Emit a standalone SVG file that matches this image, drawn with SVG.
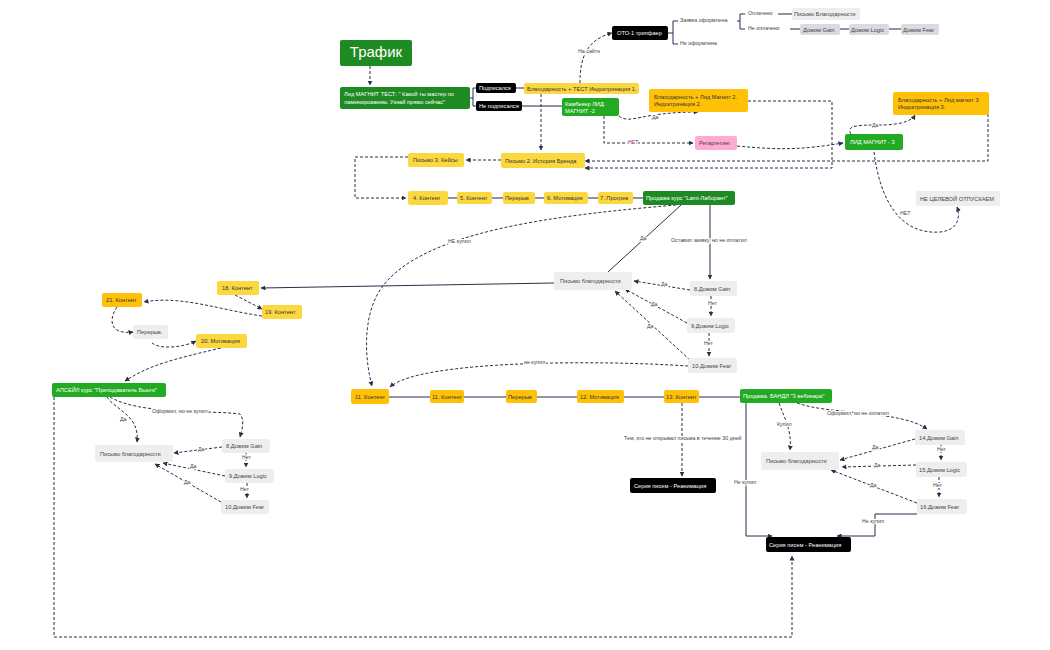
<svg xmlns="http://www.w3.org/2000/svg" width="1050" height="650" viewBox="0 0 1050 650">
<defs>
<marker id="a" viewBox="0 0 10 10" refX="9" refY="5" markerWidth="5" markerHeight="5" orient="auto"><path d="M0,0L10,5L0,10z" fill="#2b2d4a"/></marker>
<style>
text{font-family:"Liberation Sans",Arial,sans-serif;font-size:5.7px;dominant-baseline:middle}
.n rect{rx:2}
.y rect{fill:#fbd83f}.o rect{fill:#ffc107}.g rect{fill:#1e8a22}.lg rect{fill:#22aa22}.k rect{fill:#000}.l rect{fill:#efeeef}.d rect{fill:#dadae0}.p rect{fill:#ffaad0}
.g text,.lg text,.k text{fill:#fff}
.y text,.o text{fill:#333}
.l text,.d text,.p text{fill:#444}
.ds{fill:none;stroke:#2b2d4a;stroke-width:1;stroke-dasharray:3,2}
.s{fill:none;stroke:#2b2d4a;stroke-width:1}
.r{fill:none;stroke:#6e7085;stroke-width:1.6}
.lb text{fill:#444;font-size:5.3px;stroke:#fff;stroke-width:2;paint-order:stroke}
.big{font-size:15px}
</style>
</defs>
<rect width="1050" height="650" fill="#fff"/>
<g id="connectors">
<path class="ds" d="M370,66V85" marker-end="url(#a)"/>
<path class="s" d="M470,98H473V88H476M473,98V106H476"/>
<path class="r" d="M516,88H524M522,106H562"/>
<path class="ds" d="M580,83C580,60 585,40 612,33" marker-end="url(#a)"/>
<path class="s" d="M668,33H673V21H678M673,33V44H678"/>
<path class="s" d="M737,21H740V14H745M740,21V29H745"/>
<path class="r" d="M778,14H792M790,29H800M840,29H849M889,29H901"/>
<path class="ds" d="M541,94V150" marker-end="url(#a)"/>
<path class="ds" d="M619,116C630,125 640,112 698,112" marker-end="url(#a)"/>
<path class="ds" d="M604,116V143H693" marker-end="url(#a)"/>
<path class="ds" d="M737,146C780,150 800,150 843,143" marker-end="url(#a)"/>
<path class="ds" d="M748,101H832V168H585" marker-end="url(#a)"/>
<path class="ds" d="M988,114V161H585" marker-end="url(#a)"/>
<path class="ds" d="M851,134C845,125 860,125 880,125C890,125 910,124 915,115" marker-end="url(#a)"/>
<path class="ds" d="M874,152C880,200 900,235 940,232C960,230 960,215 957,207" marker-end="url(#a)"/>
<path class="ds" d="M501,160H466" marker-end="url(#a)"/>
<path class="ds" d="M408,157H355V198H406" marker-end="url(#a)"/>
<path class="r" d="M448,198H457M492,198H503M535,198H544M588,198H598M633,198H643"/>
<path class="ds" d="M676,205C560,215 420,230 380,290C362,318 365,360 372,386" marker-end="url(#a)"/>
<path class="s" d="M681,205L608,272"/>
<path class="s" d="M710,205V279" marker-end="url(#a)"/>
<path class="s" d="M554,283L261,288" marker-end="url(#a)"/>
<path class="ds" d="M690,290L634,281" marker-end="url(#a)"/>
<path class="ds" d="M711,296V316" marker-end="url(#a)"/>
<path class="ds" d="M687,323L625,289" marker-end="url(#a)"/>
<path class="ds" d="M709,333V356" marker-end="url(#a)"/>
<path class="ds" d="M690,360L615,291" marker-end="url(#a)"/>
<path class="ds" d="M688,366C600,360 420,360 390,387" marker-end="url(#a)"/>
<path class="ds" d="M235,295L262,309" marker-end="url(#a)"/>
<path class="ds" d="M262,316C220,310 180,295 144,302" marker-end="url(#a)"/>
<path class="ds" d="M117,307C108,320 110,335 133,332" marker-end="url(#a)"/>
<path class="ds" d="M152,343C160,350 185,347 196,341" marker-end="url(#a)"/>
<path class="ds" d="M221,348C170,360 150,365 125,381" marker-end="url(#a)"/>
<path class="ds" d="M54,397V637H792V556" marker-end="url(#a)"/>
<path class="ds" d="M107,397C115,410 140,415 137,442" marker-end="url(#a)"/>
<path class="ds" d="M110,397C140,415 210,410 240,414C245,420 242,430 240,437" marker-end="url(#a)"/>
<path class="ds" d="M222,447L174,453" marker-end="url(#a)"/>
<path class="ds" d="M246,453V467" marker-end="url(#a)"/>
<path class="ds" d="M225,476L163,463" marker-end="url(#a)"/>
<path class="ds" d="M247,483V498" marker-end="url(#a)"/>
<path class="ds" d="M221,502L155,464" marker-end="url(#a)"/>
<path class="s" d="M389,397H430M464,397H506M537,397H577M624,397H664M699,397H740"/>
<path class="ds" d="M682,403V476" marker-end="url(#a)"/>
<path class="s" d="M746,403V536H772" marker-end="url(#a)"/>
<path class="ds" d="M779,403C785,420 792,430 790,450" marker-end="url(#a)"/>
<path class="ds" d="M797,403C830,415 900,410 927,429" marker-end="url(#a)"/>
<path class="ds" d="M915,439L840,460" marker-end="url(#a)"/>
<path class="ds" d="M941,445V460" marker-end="url(#a)"/>
<path class="ds" d="M916,465L842,467" marker-end="url(#a)"/>
<path class="ds" d="M939,477V497" marker-end="url(#a)"/>
<path class="ds" d="M917,503L831,470" marker-end="url(#a)"/>
<path class="s" d="M917,514H875V536H837" marker-end="url(#a)"/>
</g>
<g class="lb">
<text x="578" y="52">На сайте</text>
<text x="652" y="118">Да</text>
<text x="628" y="143" style="fill:#8a2a6a">НЕТ</text>
<text x="872" y="126">Да</text>
<text x="900" y="214">НЕТ</text>
<text x="448" y="242">НЕ купил</text>
<text x="640" y="239">Да</text>
<text x="671" y="241">Оставил заявку, но не оплатил</text>
<text x="661" y="285">Да</text>
<text x="708" y="304">Нет</text>
<text x="651" y="305">Да</text>
<text x="704" y="344">Нет</text>
<text x="647" y="327">Да</text>
<text x="524" y="363">не купил</text>
<text x="120" y="420">Да</text>
<text x="152" y="412">Оформил, но не купил</text>
<text x="198" y="450">Да</text>
<text x="242" y="458">Нет</text>
<text x="190" y="467">Да</text>
<text x="240" y="490">Нет</text>
<text x="184" y="483">Да</text>
<text x="624" y="439">Тем, кто не открывал письма в течение 30 дней</text>
<text x="777" y="425">Купил</text>
<text x="827" y="414">Оформил, но не оплатил</text>
<text x="872" y="448">Да</text>
<text x="937" y="450">Нет</text>
<text x="874" y="466">Да</text>
<text x="933" y="486">Нет</text>
<text x="870" y="486">Да</text>
<text x="734" y="483">Не купил</text>
<text x="862" y="522">Не купил</text>
<text x="680" y="21">Заявка оформлена</text>
<text x="680" y="44">Не оформлена</text>
<text x="748" y="14">Оплачено</text>
<text x="748" y="29">Не оплачено</text>
</g>
<g id="n1" class="n g"><rect x="340" y="40" width="72" height="26"/><text class="big" x="376" y="53" text-anchor="middle">Трафик</text></g>
<g id="n2" class="n g"><rect x="340" y="87" width="130" height="22"/><text x="344" y="94">Лид МАГНИТ ТЕСТ: " Какой ты мастер по</text><text x="344" y="102">ламинированию. Узнай прямо сейчас"</text></g>
<g id="n3" class="n k"><rect x="476" y="83" width="40" height="10"/><text x="479" y="88">Подписался</text></g>
<g id="n4" class="n k"><rect x="476" y="101" width="46" height="10"/><text x="479" y="106">Не подписался</text></g>
<g id="n5" class="n y"><rect x="524" y="83" width="115" height="11"/><text x="527" y="89">Благодарность + ТЕСТ Индоктринация 1.</text></g>
<g id="n6" class="n lg"><rect x="562" y="98" width="57" height="18"/><text x="565" y="104">Камбекер ЛИД</text><text x="565" y="111">МАГНИТ -2</text></g>
<g id="n7" class="n k"><rect x="612" y="26" width="56" height="14"/><text x="617" y="33">ОТО-1 трипфаер</text></g>
<g id="n8" class="n l"><rect x="792" y="8" width="68" height="12"/><text x="794" y="14">Письмо Благодарности</text></g>
<g id="n9" class="n d"><rect x="800" y="24" width="40" height="11"/><text x="803" y="30">Дожим Gain</text></g>
<g id="n10" class="n d"><rect x="849" y="24" width="40" height="11"/><text x="851" y="30">Дожим Logic</text></g>
<g id="n11" class="n d"><rect x="901" y="24" width="38" height="11"/><text x="903" y="30">Дожим Fear</text></g>
<g id="n12" class="n o"><rect x="649" y="89" width="99" height="23"/><text x="654" y="97">Благодарность + Лид Магнит 2.</text><text x="654" y="104">Индоктринация 2.</text></g>
<g id="n13" class="n p"><rect x="695" y="136" width="42" height="14"/><text x="699" y="143">Ретаргетинг</text></g>
<g id="n14" class="n lg"><rect x="845" y="134" width="58" height="16"/><text x="850" y="142">ЛИД МАГНИТ - 3</text></g>
<g id="n15" class="n o"><rect x="893" y="92" width="96" height="23"/><text x="898" y="100">Благодарность + Лид магнит 3</text><text x="898" y="107">Индоктринация 3.</text></g>
<g id="n16" class="n l"><rect x="916" y="191" width="84" height="15"/><text x="920" y="199">НЕ ЦЕЛЕВОЙ ОТПУСКАЕМ</text></g>
<g id="n17" class="n y"><rect x="408" y="153" width="56" height="14"/><text x="413" y="160">Письмо 3. Кейсы</text></g>
<g id="n18" class="n y"><rect x="501" y="153" width="84" height="15"/><text x="505" y="161">Письмо 2. История Бренда</text></g>
<g id="n19" class="n y"><rect x="408" y="191" width="40" height="14"/><text x="413" y="198">4. Контент</text></g>
<g id="n20" class="n y"><rect x="457" y="192" width="35" height="12"/><text x="460" y="198">5. Контент</text></g>
<g id="n21" class="n y"><rect x="503" y="192" width="32" height="12"/><text x="505" y="198">Перерыв</text></g>
<g id="n22" class="n y"><rect x="544" y="192" width="44" height="12"/><text x="547" y="198">6. Мотивация</text></g>
<g id="n23" class="n y"><rect x="598" y="192" width="35" height="12"/><text x="600" y="198">7. Прогрев</text></g>
<g id="n24" class="n g"><rect x="643" y="191" width="92" height="14"/><text x="646" y="198">Продажа курс "Lami-Лаборант"</text></g>
<g id="n25" class="n l"><rect x="554" y="272" width="78" height="18"/><text x="560" y="281">Письмо благодарности</text></g>
<g id="n26" class="n l"><rect x="690" y="281" width="47" height="15"/><text x="694" y="289">8.Дожим Gain</text></g>
<g id="n27" class="n l"><rect x="687" y="318" width="48" height="15"/><text x="691" y="326">9.Дожим Logic</text></g>
<g id="n28" class="n l"><rect x="688" y="358" width="49" height="15"/><text x="692" y="366">10.Дожим Fear</text></g>
<g id="n29" class="n y"><rect x="217" y="281" width="42" height="14"/><text x="222" y="288">18. Контент</text></g>
<g id="n30" class="n y"><rect x="262" y="305" width="40" height="14"/><text x="265" y="312">19. Контент</text></g>
<g id="n31" class="n o"><rect x="102" y="293" width="40" height="14"/><text x="106" y="300">21. Контент</text></g>
<g id="n32" class="n l"><rect x="133" y="325" width="35" height="14"/><text x="137" y="332">Перерыв.</text></g>
<g id="n33" class="n y"><rect x="196" y="334" width="51" height="14"/><text x="201" y="341">20. Мотивация</text></g>
<g id="n34" class="n lg"><rect x="52" y="383" width="114" height="14"/><text x="56" y="390">АПСЕЙЛ курс "Преподаватель Бьюти"</text></g>
<g id="n35" class="n l"><rect x="95" y="445" width="78" height="17"/><text x="100" y="454">Письмо благодарности</text></g>
<g id="n36" class="n l"><rect x="222" y="439" width="48" height="14"/><text x="226" y="446">8.Дожим Gain</text></g>
<g id="n37" class="n l"><rect x="225" y="469" width="49" height="14"/><text x="229" y="476">9.Дожим Logic</text></g>
<g id="n38" class="n l"><rect x="221" y="500" width="48" height="14"/><text x="225" y="507">10.Дожим Fear</text></g>
<g id="n39" class="n o"><rect x="351" y="389" width="38" height="15"/><text x="355" y="397">11. Контент</text></g>
<g id="n40" class="n o"><rect x="430" y="390" width="34" height="13"/><text x="432" y="397">11. Контент</text></g>
<g id="n41" class="n o"><rect x="506" y="390" width="31" height="13"/><text x="508" y="397">Перерыв</text></g>
<g id="n42" class="n o"><rect x="577" y="390" width="47" height="13"/><text x="580" y="397">12. Мотивация</text></g>
<g id="n43" class="n o"><rect x="664" y="390" width="35" height="13"/><text x="666" y="397">13. Контент</text></g>
<g id="n44" class="n lg"><rect x="740" y="389" width="92" height="14"/><text x="743" y="396">Продажа. БАНДЛ "3 вебинара"</text></g>
<g id="n45" class="n k"><rect x="630" y="478" width="86" height="15"/><text x="634" y="486">Серия писем - Реанимация</text></g>
<g id="n46" class="n l"><rect x="761" y="452" width="78" height="18"/><text x="766" y="461">Письмо благодарности</text></g>
<g id="n47" class="n l"><rect x="915" y="430" width="50" height="15"/><text x="919" y="438">14.Дожим Gain</text></g>
<g id="n48" class="n l"><rect x="916" y="462" width="51" height="15"/><text x="919" y="470">15.Дожим Logic</text></g>
<g id="n49" class="n l"><rect x="917" y="499" width="50" height="15"/><text x="920" y="507">16.Дожим Fear</text></g>
<g id="n50" class="n k"><rect x="766" y="537" width="85" height="15"/><text x="769" y="545">Серия писем - Реанимация</text></g>
</svg>
